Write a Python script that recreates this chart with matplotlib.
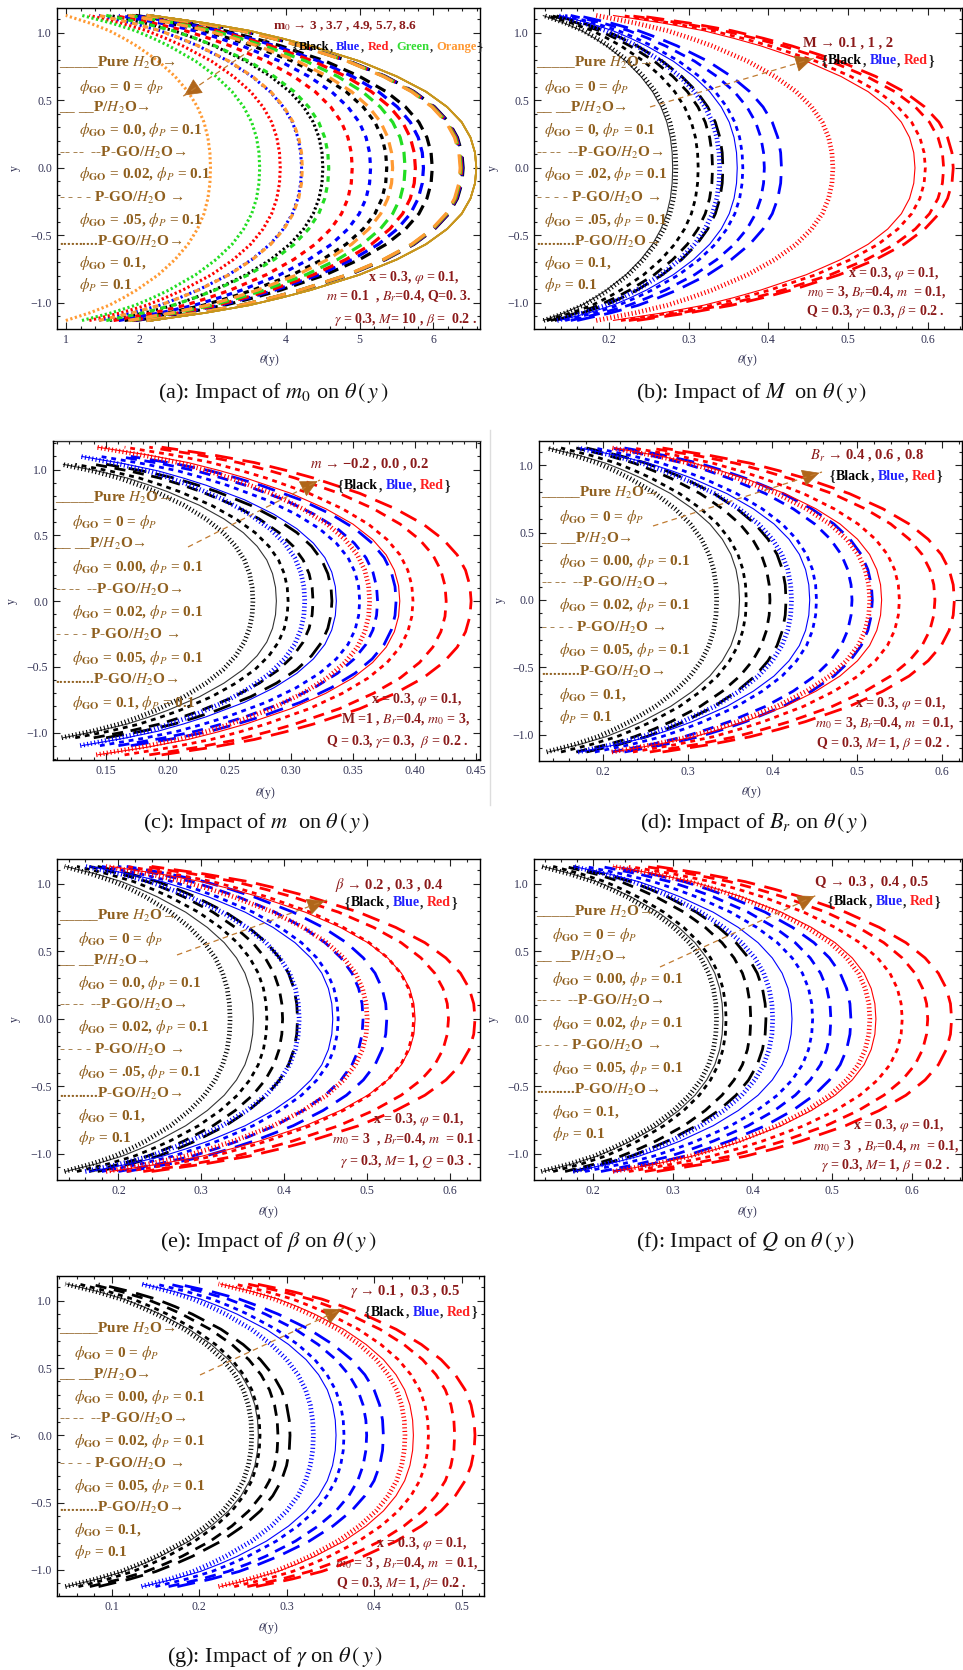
import numpy as np
import matplotlib
matplotlib.use("Agg")
import matplotlib.pyplot as plt
from matplotlib.ticker import MultipleLocator
from matplotlib.lines import Line2D
from matplotlib.patches import FancyArrowPatch

plt.rcParams['font.family'] = ['Liberation Serif', 'DejaVu Serif']
plt.rcParams['mathtext.fontset'] = 'stix'
plt.rcParams['lines.scale_dashes'] = False
plt.rcParams['axes.linewidth'] = 1.0

W, H = 963, 1670

# ---------------- data ----------------
# shared normalised profile: |y|/half-width  ->  fraction of the centre rise
profile_s = [0.0, 0.1, 0.2, 0.3, 0.4, 0.5, 0.6, 0.7, 0.8, 0.85, 0.9, 0.95, 1.0]
profile_f = [1.0, 0.996, 0.982, 0.955, 0.91, 0.845, 0.755, 0.64, 0.49, 0.40, 0.30, 0.165, 0.0]

# style order: Pure H2O (solid), P/H2O (long dash), P-GO 0.02 (dash), P-GO 0.05 (short dash), P-GO 0.1 (dotted)

# (a) m0 -> 3, 3.7, 4.9, 5.7, 8.6
a_colors = ['#000000', '#0000ff', '#ff0000', '#22dd22', '#ff9a33']
a_center = [[6.59, 6.41, 5.99, 5.37, 4.50],
            [6.59, 6.40, 5.87, 5.15, 4.21],
            [6.59, 6.39, 5.76, 4.90, 3.92],
            [6.59, 6.38, 5.62, 4.58, 3.64],
            [6.59, 6.37, 5.45, 4.22, 2.97]]
a_wall = [[2.17, 2.10, 1.95, 1.80, 1.60],
          [2.17, 2.10, 1.92, 1.72, 1.45],
          [2.17, 2.10, 1.90, 1.65, 1.32],
          [2.17, 2.10, 1.87, 1.55, 1.22],
          [2.17, 2.10, 1.85, 1.45, 1.00]]
a_half = [1.13, 1.13, 1.13, 1.13, 1.13]

# (b) M -> 0.1, 1, 2
b_center = [[0.280, 0.343, 0.330, 0.312, 0.284],
            [0.361, 0.4165, 0.395, 0.368, 0.339],
            [0.584, 0.632, 0.620, 0.597, 0.481]]
b_wall = [[0.117, 0.132, 0.127, 0.122, 0.118],
          [0.138, 0.160, 0.152, 0.145, 0.135],
          [0.205, 0.235, 0.225, 0.215, 0.184]]
b_half = [1.13, 1.13, 1.13]

# (c) m -> -0.2, 0.0, 0.2
c_center = [[0.288, 0.333, 0.3177, 0.2975, 0.269],
            [0.3366, 0.385, 0.370, 0.3555, 0.311],
            [0.388, 0.4458, 0.4256, 0.3987, 0.3636]]
c_wall = [[0.115, 0.150, 0.140, 0.125, 0.114],
          [0.130, 0.170, 0.160, 0.145, 0.129],
          [0.143, 0.195, 0.185, 0.165, 0.142]]
c_half = [1.04, 1.10, 1.17]

# (d) Br -> 0.4, 0.6, 0.8
d_center = [[0.361, 0.416, 0.397, 0.369, 0.334],
            [0.444, 0.518, 0.494, 0.452, 0.4225],
            [0.529, 0.615, 0.592, 0.550, 0.515]]
d_wall = [[0.135, 0.180, 0.168, 0.150, 0.133],
          [0.172, 0.225, 0.210, 0.190, 0.170],
          [0.212, 0.270, 0.255, 0.235, 0.210]]
d_half = [1.13, 1.13, 1.13]

# (e) beta -> 0.2, 0.3, 0.4
e_center = [[0.3628, 0.416, 0.398, 0.379, 0.3347],
            [0.4585, 0.5236, 0.495, 0.465, 0.418],
            [0.5578, 0.630, 0.598, 0.556, 0.500]]
e_wall = [[0.136, 0.175, 0.165, 0.150, 0.135],
          [0.165, 0.210, 0.200, 0.180, 0.160],
          [0.190, 0.240, 0.230, 0.210, 0.185]]
e_half = [1.13, 1.13, 1.13]

# (f) Q -> 0.3, 0.4, 0.5
f_center = [[0.363, 0.417, 0.398, 0.367, 0.355],
            [0.4497, 0.5236, 0.4985, 0.4756, 0.4255],
            [0.555, 0.650, 0.620, 0.588, 0.5474]]
f_wall = [[0.137, 0.175, 0.165, 0.150, 0.135],
          [0.175, 0.225, 0.210, 0.190, 0.175],
          [0.225, 0.280, 0.265, 0.245, 0.225]]
f_half = [1.13, 1.13, 1.13]

# (g) gamma -> 0.1, 0.3, 0.5
g_center = [[0.2676, 0.3038, 0.290, 0.2695, 0.260],
            [0.3564, 0.4105, 0.3914, 0.3655, 0.3305],
            [0.4448, 0.5152, 0.492, 0.462, 0.4352]]
g_wall = [[0.048, 0.085, 0.075, 0.062, 0.047],
          [0.135, 0.175, 0.165, 0.150, 0.134],
          [0.224, 0.265, 0.255, 0.240, 0.222]]
g_half = [1.125, 1.125, 1.125]

bgr_colors = ['#000000', '#0000ff', '#ff0000']

# ---------------- styling ----------------
BROWN = '#8f5f1e'
DRED = '#8b1a1a'
ARROW = '#b0661a'
TICKC = '#333355'

style_bg = [dict(lw=0.8, ls='-'),
            dict(lw=2.0, ls=(0, (13, 7))),
            dict(lw=2.0, ls=(0, (8, 5.5))),
            dict(lw=2.0, ls=(0, (3.5, 3.5))),
            dict(lw=3.4, ls=(0, (0.8, 1.8)))]
style_a = [dict(lw=1.2, ls='-'),
           dict(lw=2.3, ls=(0, (14, 8))),
           dict(lw=2.3, ls=(0, (8, 5))),
           dict(lw=2.3, ls=(0, (4, 4))),
           dict(lw=2.2, ls=(0, (1.6, 1.8)))]

fig = plt.figure(figsize=(W / 100, H / 100), dpi=100)
fig.patch.set_facecolor('white')
renderer = fig.canvas.get_renderer()


def fx(x):
    return x / W


def fy(y):
    return 1 - y / H


def ftext(x, y, s, **kw):
    return fig.text(fx(x), fy(y), s, **kw)


def make_ax(box, xlim, ylim, xmaj, xmin):
    l, t, r, b = box
    ax = fig.add_axes([fx(l), fy(b), (r - l) / W, (b - t) / H])
    ax.set_xlim(xlim)
    ax.set_ylim(ylim)
    ax.xaxis.set_major_locator(MultipleLocator(xmaj))
    ax.xaxis.set_minor_locator(MultipleLocator(xmin))
    ax.yaxis.set_major_locator(MultipleLocator(0.5))
    ax.yaxis.set_minor_locator(MultipleLocator(0.1))
    ax.tick_params(which='both', direction='in', top=True, right=True,
                   labelsize=8.5, labelcolor=TICKC, width=0.8, color='#222222')
    ax.tick_params(which='major', length=5)
    ax.tick_params(which='minor', length=2.5)
    return ax


def draw_curves(ax, center, wall, half, colors, styles, solid_color=None):
    s = np.array(profile_s)
    f = np.array(profile_f)
    ys = np.concatenate([-s[::-1], s[1:]])
    fs = np.concatenate([f[::-1], f[1:]])
    for ci, col in enumerate(colors):
        for si in range(5):
            if si == 0 and solid_color is not None:
                continue
            th = wall[ci][si] + (center[ci][si] - wall[ci][si]) * fs
            st = styles[si]
            c = col
            if si == 0 and col == '#000000':
                c = '#333333'
            ax.plot(th, ys * half[ci], color=c, lw=st['lw'], ls=st['ls'],
                    dash_capstyle='butt', solid_capstyle='butt')
    if solid_color is not None:
        for ci in range(len(colors)):
            th = wall[ci][0] + (center[ci][0] - wall[ci][0]) * fs
            ax.plot(th, ys * half[ci], color=solid_color, lw=styles[0]['lw'])


def legend_block(box, indent, v4, v6, v8, combined_last=False, offsets=None):
    l, t, r, b = box
    if offsets is None:
        offsets = [55, 79, 100, 122, 145, 166, 190, 212, 234, 255, 277]
    phi = r'$\phi_{\mathbf{GO}}$'
    lines = [(0, '_____Pure $H_2$O→'),
             (1, phi + ' = 0 = $\\phi_P$'),
             (0, '__ __P/$H_2$O→'),
             (1, phi + ' = ' + v4 + ', $\\phi_P$ = 0.1'),
             (0, '-- --  --P-GO/$H_2$O→'),
             (1, phi + ' = ' + v6 + ', $\\phi_P$ = 0.1'),
             (0, '- - - - P-GO/$H_2$O →'),
             (1, phi + ' = ' + v8 + ', $\\phi_P$ = 0.1'),
             (0, '..........P-GO/$H_2$O→')]
    if combined_last:
        lines.append((1, phi + ' = 0.1, $\\phi_P$ = 0.1'))
    else:
        lines.append((1, phi + ' = 0.1,'))
        lines.append((1, '$\\phi_P$ = 0.1'))
    for (ind, txt), off in zip(lines, offsets):
        ftext(l + 2 + ind * indent, t + off, txt, fontsize=11, fontweight='bold',
              color=BROWN, ha='left', va='center')


def color_list(x, y, names, fs):
    items = [('{', '#222222', 0.5)]
    for i, (nm, col) in enumerate(names):
        items.append((nm, col, 0.5))
        if i < len(names) - 1:
            items.append((',', '#222222', 3.5))
    items.append(('}', '#222222', 0))
    cx = x
    for txt, col, gap in items:
        t = ftext(cx, y, txt, color=col, fontsize=fs, fontweight='bold',
                  ha='left', va='center')
        cx += t.get_window_extent(renderer).width + gap


def arrow(head, tail):
    hx, hy = head
    tx, ty = tail
    fig.add_artist(Line2D([fx(tx), fx(hx)], [fy(ty), fy(hy)], transform=fig.transFigure,
                          color='#c07a30', lw=0.9, ls=(0, (4, 3))))
    d = np.hypot(hx - tx, hy - ty)
    bx = hx - (hx - tx) / d * 12
    by = hy - (hy - ty) / d * 12
    fig.add_artist(FancyArrowPatch((fx(bx), fy(by)), (fx(hx), fy(hy)),
                                   transform=fig.transFigure,
                                   arrowstyle='-|>,head_length=0.7,head_width=0.35',
                                   mutation_scale=16, color=ARROW, lw=0.5))


def right_lines(ends, ys, texts):
    for xe, yy, tx in zip(ends, ys, texts):
        ftext(xe, yy, tx, fontsize=10, fontweight='bold', color=DRED,
              ha='right', va='center')


def axis_labels(ylab_x, ylab_y, xlab_x, xlab_y):
    ftext(ylab_x, ylab_y, 'y', fontsize=8.5, color=TICKC, rotation=90,
          ha='center', va='center')
    ftext(xlab_x, xlab_y, r'$\theta$(y)', fontsize=8.5, color=TICKC,
          ha='center', va='center')


def caption(x, y, s):
    ftext(x, y, s, fontsize=16, ha='center', va='center', color='#111111')


THETA = r'$\theta\,\left(\,y\,\right)$'
BGR_NAMES = [('Black', '#000000'), ('Blue', '#2020ff'), ('Red', '#ff2020')]

# ---------------- panel (a) ----------------
box = (57, 8, 480, 329)
ax = make_ax(box, (0.88, 6.64), (-1.193, 1.185), 1, 0.2)
draw_curves(ax, a_center, a_wall, a_half, a_colors, style_a, solid_color='#c8961e')
legend_block(box, 20, '0.0', '0.02', '.05')
ftext(273, 26, 'm$_0$ → 3 , 3.7 , 4.9, 5.7, 8.6', fontsize=9.5, fontweight='bold',
      color=DRED, ha='left', va='center')
color_list(293, 47, [('Black', '#000000'), ('Blue', '#2020ff'), ('Red', '#ff2020'),
                     ('Green', '#33dd33'), ('Orange', '#ff9933')], 9)
arrow((182, 97), (268, 38))
right_lines([460, 472, 477], [277, 296, 319],
            [r'x = 0.3, $\varphi$ = 0.1,',
             r'$m$ = 0.1  , $B_r$=0.4, Q=0. 3.',
             r'$\gamma$ = 0.3, $M$= 10 , $\beta$ =  0.2 .'])
axis_labels(15, 168, 269, 360)
caption(273, 393, r'(a): Impact of $m_0$ on ' + THETA)

# ---------------- panel (b) ----------------
box = (534, 8, 962, 329)
ax = make_ax(box, (0.106, 0.643), (-1.193, 1.185), 0.1, 0.02)
draw_curves(ax, b_center, b_wall, b_half, bgr_colors, style_bg)
legend_block(box, 8, '0', '.02', '.05')
ftext(803, 43, 'M → 0.1 , 1 , 2', fontsize=10.5, fontweight='bold',
      color=DRED, ha='left', va='center')
color_list(822, 61, BGR_NAMES, 10)
arrow((815, 58), (650, 107))
right_lines([940, 947, 945], [273, 292, 312],
            [r'x = 0.3, $\varphi$ = 0.1,',
             r'$m_0$ = 3, $B_r$=0.4, $m$  = 0.1,',
             r'Q = 0.3, $\gamma$= 0.3, $\beta$ = 0.2 .'])
axis_labels(493, 168, 747, 360)
caption(751, 393, r'(b): Impact of $M$  on ' + THETA)

# ---------------- panel (c) ----------------
box = (53, 441, 480, 760)
ax = make_ax(box, (0.107, 0.453), (-1.209, 1.217), 0.05, 0.01)
draw_curves(ax, c_center, c_wall, c_half, bgr_colors, style_bg)
legend_block(box, 17, '0.00', '0.02', '0.05', combined_last=True,
             offsets=[57, 81, 103, 126, 149, 171, 194, 217, 239, 262])
ftext(310, 464, r'$m$ → −0.2 , 0.0 , 0.2', fontsize=10.5, fontweight='bold',
      color=DRED, ha='left', va='center')
color_list(338, 486, BGR_NAMES, 10)
arrow((320, 480), (188, 547))
right_lines([463, 470, 468], [699, 719, 742],
            [r'x = 0.3, $\varphi$ = 0.1,',
             r'M =1 , $B_r$=0.4, $m_0$ = 3,',
             r'Q = 0.3, $\gamma$= 0.3,  $\beta$ = 0.2 .'])
axis_labels(12, 601, 265, 793)
caption(257, 823, r'(c): Impact of $m$  on ' + THETA)

# ---------------- panel (d) ----------------
box = (539, 441, 962, 761)
ax = make_ax(box, (0.124, 0.624), (-1.197, 1.182), 0.1, 0.02)
draw_curves(ax, d_center, d_wall, d_half, bgr_colors, style_bg)
legend_block(box, 18, '0.00', '0.02', '0.05',
             offsets=[52, 76, 98, 120, 142, 164, 187, 209, 231, 254, 276])
ftext(810, 455, r'$B_r$ → 0.4 , 0.6 , 0.8', fontsize=10.5, fontweight='bold',
      color=DRED, ha='left', va='center')
color_list(830, 476, BGR_NAMES, 10)
arrow((822, 472), (653, 526))
right_lines([947, 955, 950], [703, 723, 744],
            [r'x = 0.3, $\varphi$ = 0.1,',
             r'$m_0$ = 3, $B_r$=0.4, $m$  = 0.1,',
             r'Q = 0.3, $M$= 1, $\beta$ = 0.2 .'])
axis_labels(500, 600, 751, 792)
caption(754, 823, r'(d): Impact of $B_r$ on ' + THETA)

# ---------------- panel (e) ----------------
box = (57, 859, 480, 1180)
ax = make_ax(box, (0.126, 0.636), (-1.193, 1.185), 0.1, 0.02)
draw_curves(ax, e_center, e_wall, e_half, bgr_colors, style_bg)
legend_block(box, 19, '0.0', '0.02', '.05',
             offsets=[57, 80, 102, 124, 146, 168, 191, 213, 235, 257, 279])
ftext(335, 885, r'$\beta$ → 0.2 , 0.3 , 0.4', fontsize=10.5, fontweight='bold',
      color=DRED, ha='left', va='center')
color_list(345, 903, BGR_NAMES, 10)
arrow((327, 900), (177, 955))
right_lines([465, 475, 472], [1120, 1139, 1162],
            [r'x = 0.3, $\varphi$ = 0.1,',
             r'$m_0$ = 3  , $B_r$=0.4, $m$  = 0.1',
             r'$\gamma$ = 0.3, $M$= 1, $Q$ = 0.3 .'])
axis_labels(15, 1019, 268, 1212)
caption(268, 1242, r'(e): Impact of $\beta$ on ' + THETA)

# ---------------- panel (f) ----------------
box = (534, 859, 962, 1180)
ax = make_ax(box, (0.126, 0.663), (-1.193, 1.185), 0.1, 0.02)
draw_curves(ax, f_center, f_wall, f_half, bgr_colors, style_bg)
legend_block(box, 16, '0.00', '0.02', '0.05',
             offsets=[53, 76, 98, 120, 142, 164, 187, 209, 231, 253, 275])
ftext(815, 882, 'Q → 0.3 ,  0.4 , 0.5', fontsize=10.5, fontweight='bold',
      color=DRED, ha='left', va='center')
color_list(828, 902, BGR_NAMES, 10)
arrow((817, 895), (660, 967))
right_lines([945, 960, 950], [1126, 1146, 1166],
            [r'x = 0.3, $\varphi$ = 0.1,',
             r'$m_0$ = 3  , $B_r$=0.4, $m$  = 0.1,',
             r'$\gamma$ = 0.3, $M$= 1, $\beta$ = 0.2 .'])
axis_labels(493, 1019, 747, 1212)
caption(746, 1242, r'(f): Impact of $Q$ on ' + THETA)

# ---------------- panel (g) ----------------
box = (57, 1276, 484, 1596)
ax = make_ax(box, (0.0375, 0.5255), (-1.195, 1.184), 0.1, 0.02)
draw_curves(ax, g_center, g_wall, g_half, bgr_colors, style_bg)
legend_block(box, 15, '0.00', '0.02', '0.05',
             offsets=[53, 77, 99, 121, 143, 165, 188, 210, 232, 254, 276])
ftext(350, 1291, r'$\gamma$ → 0.1 ,  0.3 , 0.5', fontsize=10.5, fontweight='bold',
      color=DRED, ha='left', va='center')
color_list(365, 1312, BGR_NAMES, 10)
arrow((344, 1308), (200, 1375))
right_lines([468, 478, 467], [1543, 1563, 1584],
            [r'x = 0.3, $\varphi$ = 0.1,',
             r'$m_0$ = 3 , $B_r$=0.4, $m$  = 0.1,',
             r'Q = 0.3, $M$= 1, $\beta$= 0.2 .'])
axis_labels(15, 1435, 268, 1628)
caption(275, 1657, r'(g): Impact of $\gamma$ on ' + THETA)

# faint separators seen in the scan
fig.add_artist(Line2D([fx(490), fx(490)], [fy(430), fy(805)], transform=fig.transFigure,
                      color='#dddddd', lw=1.0))
fig.add_artist(Line2D([fx(55), fx(480)], [fy(440), fy(440)], transform=fig.transFigure,
                      color='#e6e6e6', lw=1.0))

fig.savefig('out.png', dpi=100, facecolor='white')
